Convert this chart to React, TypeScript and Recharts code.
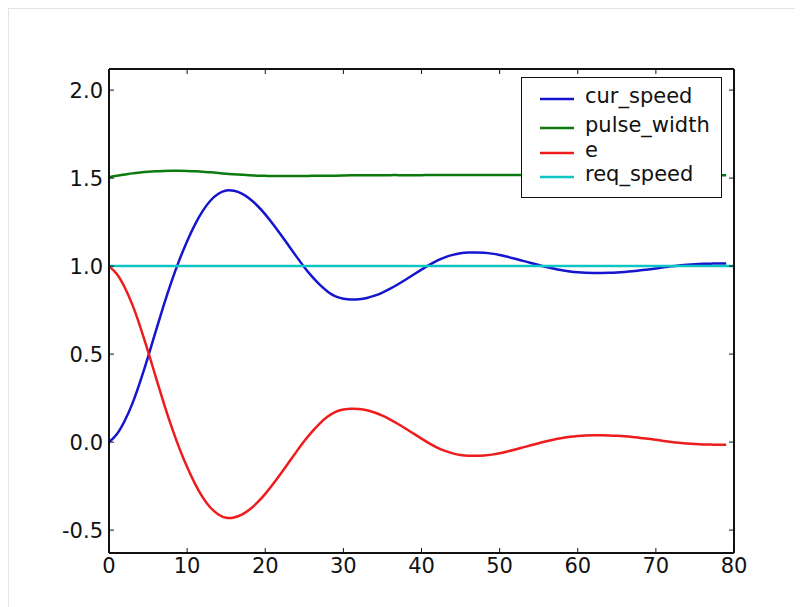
import { LineChart, Line, XAxis, YAxis, Legend } from "recharts";

// Step response readings, one value per time step (x = 0..79).
const CUR_SPEED = [
  0.0, 0.045, 0.12, 0.22, 0.345, 0.485, 0.632, 0.777, 0.912, 1.034,
  1.142, 1.236, 1.314, 1.373, 1.411, 1.43, 1.428, 1.412, 1.383, 1.343,
  1.294, 1.238, 1.178, 1.116, 1.054, 0.994, 0.94, 0.893, 0.855, 0.828,
  0.815, 0.81, 0.812, 0.819, 0.832, 0.85, 0.872, 0.897, 0.924, 0.952,
  0.98, 1.007, 1.031, 1.05, 1.064, 1.073, 1.077, 1.078, 1.076, 1.071,
  1.063, 1.053, 1.042, 1.03, 1.018, 1.006, 0.995, 0.985, 0.977, 0.97,
  0.965, 0.962, 0.961, 0.961, 0.962, 0.964, 0.967, 0.971, 0.976, 0.981,
  0.987, 0.993, 0.999, 1.004, 1.008, 1.011, 1.013, 1.014, 1.015, 1.015,
];

const PULSE_WIDTH = [
  1.505, 1.513, 1.52, 1.527, 1.532, 1.536, 1.539, 1.541, 1.542, 1.542,
  1.541, 1.539, 1.536, 1.533, 1.529, 1.525, 1.522, 1.519, 1.516, 1.514,
  1.513, 1.512, 1.512, 1.512, 1.512, 1.512, 1.513, 1.513, 1.514, 1.514,
  1.515, 1.516, 1.516, 1.516, 1.516, 1.516, 1.517, 1.517, 1.517, 1.517,
  1.517, 1.518, 1.518, 1.518, 1.518, 1.518, 1.518, 1.518, 1.518, 1.518,
  1.518, 1.518, 1.518, 1.518, 1.518, 1.518, 1.517, 1.517, 1.517, 1.517,
  1.517, 1.517, 1.517, 1.517, 1.517, 1.517, 1.517, 1.517, 1.517, 1.517,
  1.517, 1.517, 1.517, 1.517, 1.517, 1.517, 1.517, 1.517, 1.517, 1.517,
];

const ERROR = [
  1.0, 0.955, 0.88, 0.78, 0.655, 0.515, 0.368, 0.223, 0.088, -0.034,
  -0.142, -0.236, -0.314, -0.373, -0.411, -0.43, -0.428, -0.412, -0.383, -0.343,
  -0.294, -0.238, -0.178, -0.116, -0.054, 0.006, 0.06, 0.107, 0.145, 0.172,
  0.185, 0.19, 0.188, 0.181, 0.168, 0.15, 0.128, 0.103, 0.076, 0.048,
  0.02, -0.007, -0.031, -0.05, -0.064, -0.073, -0.077, -0.078, -0.076, -0.071,
  -0.063, -0.053, -0.042, -0.03, -0.018, -0.006, 0.005, 0.015, 0.023, 0.03,
  0.035, 0.038, 0.039, 0.039, 0.038, 0.036, 0.033, 0.029, 0.024, 0.019,
  0.013, 0.007, 0.001, -0.004, -0.008, -0.011, -0.013, -0.014, -0.015, -0.015,
];

const REQ_SPEED = [
  1, 1, 1, 1, 1, 1, 1, 1, 1, 1, 1, 1, 1, 1, 1, 1, 1, 1, 1, 1,
  1, 1, 1, 1, 1, 1, 1, 1, 1, 1, 1, 1, 1, 1, 1, 1, 1, 1, 1, 1,
  1, 1, 1, 1, 1, 1, 1, 1, 1, 1, 1, 1, 1, 1, 1, 1, 1, 1, 1, 1,
  1, 1, 1, 1, 1, 1, 1, 1, 1, 1, 1, 1, 1, 1, 1, 1, 1, 1, 1, 1, 1,
];

const X_TICKS = [0, 10, 20, 30, 40, 50, 60, 70, 80];
const Y_TICKS = [-0.5, 0.0, 0.5, 1.0, 1.5, 2.0];
const Y_DOMAIN = [-0.63, 2.12];

const SERIES = [
  { key: "cur_speed", color: "#1515d0" },
  { key: "pulse_width", color: "#0d7a0d" },
  { key: "e", color: "#ee1c1c" },
  { key: "req_speed", color: "#10c4c4" },
];

const data = REQ_SPEED.map((r, i) => ({
  x: i,
  cur_speed: CUR_SPEED[i],
  pulse_width: PULSE_WIDTH[i],
  e: ERROR[i],
  req_speed: r,
}));

const FONT = "'DejaVu Sans', 'Bitstream Vera Sans', sans-serif";
const INK = "#111";
const TICK_LEN = 5;

function LeftTick(props: any) {
  const { x, y, payload } = props;
  return (
    <g>
      <line x1={x + 6} x2={x + 6 + TICK_LEN} y1={y} y2={y} stroke={INK} strokeWidth={1} />
      <text x={x} y={y} dy="0.36em" textAnchor="end" fontFamily={FONT} fontSize={21} fill={INK}>
        {Number(payload.value).toFixed(1)}
      </text>
    </g>
  );
}

function BottomTick(props: any) {
  const { x, y, payload } = props;
  return (
    <g>
      <line x1={x} x2={x} y1={y - 5} y2={y - 5 - TICK_LEN} stroke={INK} strokeWidth={1} />
      <text x={x} y={y + 15} textAnchor="middle" fontFamily={FONT} fontSize={21} fill={INK}>
        {payload.value}
      </text>
    </g>
  );
}

function TopTick(props: any) {
  const { x, y } = props;
  return <line x1={x} x2={x} y1={y} y2={y + TICK_LEN} stroke={INK} strokeWidth={1} />;
}

function RightTick(props: any) {
  const { x, y } = props;
  return <line x1={x} x2={x - TICK_LEN} y1={y} y2={y} stroke={INK} strokeWidth={1} />;
}

const ROW_Y = [22, 51, 76, 100];

function LegendBox() {
  return (
    <svg width={201} height={121} style={{ display: "block" }}>
      <rect x={0.5} y={0.5} width={200} height={120} fill="#fff" stroke={INK} strokeWidth={1} />
      {SERIES.map((s, i) => (
        <g key={s.key}>
          <line x1={19} x2={53} y1={ROW_Y[i]} y2={ROW_Y[i]} stroke={s.color} strokeWidth={2.5} />
          <text x={64} y={ROW_Y[i] + 4} fontFamily={FONT} fontSize={21} fill={INK}>
            {s.key}
          </text>
        </g>
      ))}
    </svg>
  );
}

export default function App() {
  const frame = { stroke: INK, strokeWidth: 2 };
  return (
    <div
      style={{
        width: 795,
        height: 599,
        boxSizing: "border-box",
        borderTop: "1px solid #e4e4e4",
        borderLeft: "1px solid #e4e4e4",
        overflow: "hidden",
        background: "#fff",
      }}
    >
      <LineChart width={794} height={598} data={data} margin={{ top: 59, right: 68, bottom: 24, left: 40 }}>
        <XAxis
          dataKey="x"
          type="number"
          domain={[0, 80]}
          ticks={X_TICKS}
          interval={0}
          height={30}
          tickSize={0}
          tickMargin={5}
          tickLine={false}
          axisLine={frame}
          tick={<BottomTick />}
        />
        <XAxis
          xAxisId="top"
          dataKey="x"
          orientation="top"
          type="number"
          domain={[0, 80]}
          ticks={X_TICKS}
          interval={0}
          height={1}
          tickSize={0}
          tickMargin={0}
          tickLine={false}
          axisLine={frame}
          tick={<TopTick />}
        />
        <YAxis
          type="number"
          domain={Y_DOMAIN}
          ticks={Y_TICKS}
          interval={0}
          allowDataOverflow
          width={60}
          tickSize={0}
          tickMargin={6}
          tickLine={false}
          axisLine={frame}
          tick={<LeftTick />}
        />
        <YAxis
          yAxisId="right"
          orientation="right"
          type="number"
          domain={Y_DOMAIN}
          ticks={Y_TICKS}
          interval={0}
          allowDataOverflow
          width={1}
          tickSize={0}
          tickMargin={0}
          tickLine={false}
          axisLine={frame}
          tick={<RightTick />}
        />
        {SERIES.map((s) => (
          <Line
            key={s.key}
            type="natural"
            dataKey={s.key}
            name={s.key}
            stroke={s.color}
            strokeWidth={2.5}
            dot={false}
            activeDot={false}
            isAnimationActive={false}
          />
        ))}
        {/* invisible twin so the top/right frame axes get drawn */}
        <Line
          xAxisId="top"
          yAxisId="right"
          dataKey="req_speed"
          stroke="none"
          strokeOpacity={0}
          dot={false}
          activeDot={false}
          legendType="none"
          isAnimationActive={false}
        />
        <Legend
          layout="horizontal"
          verticalAlign="middle"
          align="center"
          width={201}
          height={121}
          wrapperStyle={{ left: 512, top: 68, width: 201, height: 121 }}
          content={<LegendBox />}
        />
      </LineChart>
    </div>
  );
}
